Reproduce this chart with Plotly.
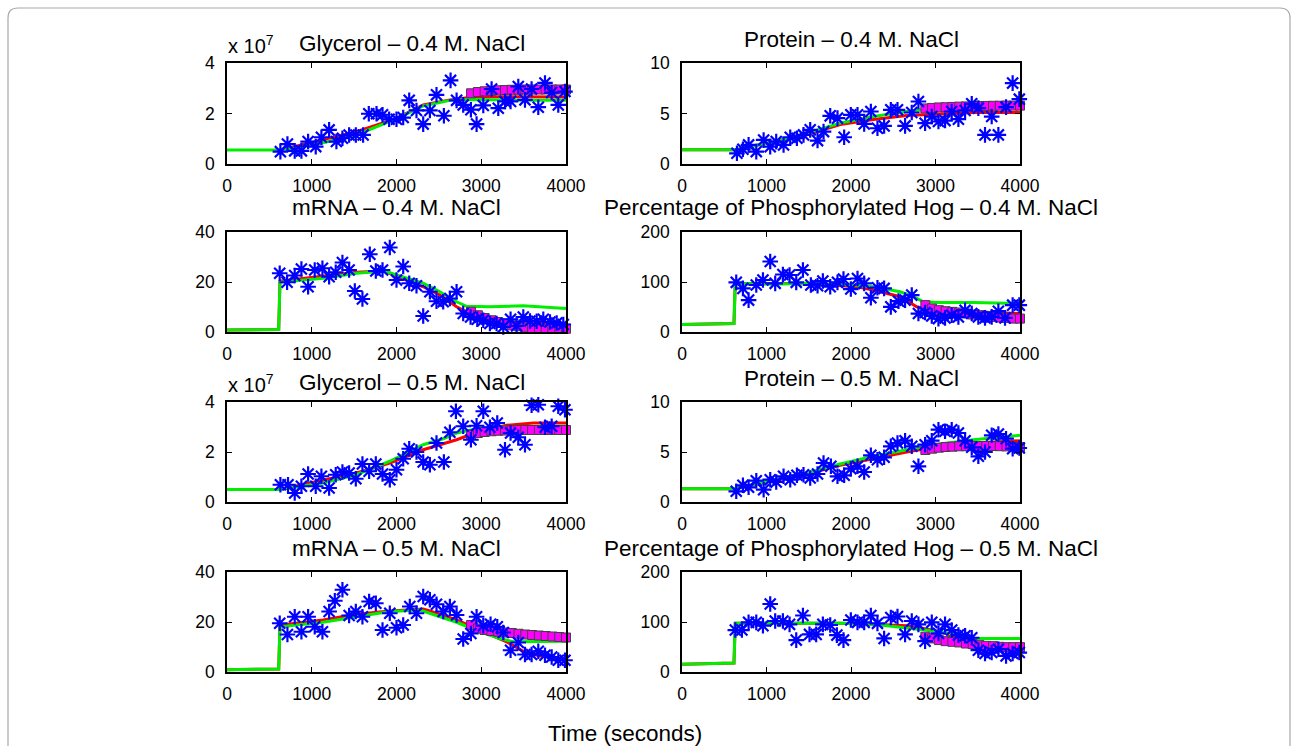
import plotly.graph_objects as go

# ---------------- shared ----------------
SQ_T = [2880, 2960, 3040, 3120, 3200, 3280, 3360, 3440, 3520, 3600, 3680, 3760, 3840, 3920, 4000]
X_TICKS = [0, 1000, 2000, 3000, 4000]

# ---------------- Glycerol 0.4 M (x 10^7) ----------------
GLY04_T = [630, 713, 799, 878, 957, 1047, 1114, 1205, 1291, 1362, 1441, 1520, 1606, 1673, 1764,
           1835, 1913, 2000, 2079, 2150, 2236, 2315, 2394, 2472, 2559, 2638, 2709, 2787, 2878,
           2945, 3024, 3122, 3201, 3280, 3346, 3437, 3516, 3594, 3673, 3752, 3831, 3909, 3988]
GLY04_Y = [0.49, 0.79, 0.52, 0.52, 0.89, 0.69, 1.06, 1.35, 0.89, 1.02, 1.15, 1.15, 1.15, 1.99, 1.99,
           1.95, 1.77, 1.77, 1.84, 2.52, 2.12, 1.58, 2.12, 2.74, 1.91, 3.31, 2.52, 2.34, 2.15,
           1.58, 2.32, 2.97, 2.21, 2.48, 2.48, 3.07, 2.54, 2.97, 2.25, 3.21, 2.83, 2.34, 2.87]
GLY04_GT = [0, 620, 1015, 1527, 2000, 2315, 2630, 2827, 3300, 4000]
GLY04_GY = [0.55, 0.55, 0.75, 1.15, 1.80, 2.30, 2.52, 2.55, 2.53, 2.52]
GLY04_RT = [620, 1134, 1527, 2000, 2315, 2630, 2905, 3300, 4000]
GLY04_RY = [0.55, 0.95, 1.28, 1.81, 2.34, 2.54, 2.65, 2.66, 2.65]
GLY04_SQ = [2.80, 2.85, 2.88, 2.90, 2.92, 2.93, 2.94, 2.94, 2.95, 2.95, 2.95, 2.95, 2.95, 2.95, 2.95]

# ---------------- Protein 0.4 M ----------------
PRO04_T = [650, 721, 788, 879, 966, 1044, 1115, 1202, 1281, 1360, 1438, 1517, 1604, 1675, 1754,
           1840, 1919, 1998, 2077, 2156, 2235, 2313, 2392, 2471, 2550, 2640, 2719, 2798, 2877,
           2956, 3035, 3113, 3192, 3271, 3350, 3429, 3507, 3586, 3665, 3744, 3835, 3913, 3992]
PRO04_Y = [1.06, 1.46, 1.89, 1.23, 2.38, 1.72, 2.22, 1.89, 2.65, 2.55, 2.88, 3.38, 2.32, 3.21, 4.77,
           4.54, 2.65, 4.87, 4.87, 3.97, 5.20, 3.54, 3.77, 5.36, 5.36, 3.77, 5.10, 6.19, 4.04,
           4.70, 4.21, 4.30, 5.20, 4.44, 5.30, 5.96, 5.53, 2.88, 4.70, 2.88, 5.63, 8.01, 6.42]
PRO04_GT = [0, 620, 1084, 1478, 1872, 2266, 2660, 3054, 3448, 4000]
PRO04_GY = [1.4, 1.4, 2.2, 3.05, 4.05, 4.7, 5.2, 5.6, 5.85, 6.1]
PRO04_RT = [0, 620, 1084, 1478, 1872, 2266, 2660, 3054, 3448, 4000]
PRO04_RY = [1.4, 1.4, 2.2, 2.9, 3.9, 4.4, 4.8, 4.97, 5.1, 5.1]
PRO04_SQ = [5.50, 5.55, 5.60, 5.62, 5.65, 5.68, 5.70, 5.72, 5.74, 5.75, 5.76, 5.77, 5.78, 5.78, 5.78]

# ---------------- mRNA 0.4 M ----------------
MRN04_T = [622, 709, 799, 878, 957, 1035, 1126, 1205, 1283, 1362, 1441, 1508, 1598, 1685, 1756,
           1835, 1921, 2000, 2079, 2150, 2236, 2315, 2394, 2472, 2551, 2630, 2709, 2787, 2874,
           2953, 3024, 3102, 3181, 3260, 3346, 3417, 3496, 3575, 3654, 3732, 3811, 3890, 3968]
MRN04_Y = [23.5, 19.9, 22.6, 25.2, 18.1, 24.8, 25.5, 22.1, 23.9, 27.8, 24.8, 16.4, 13.2, 31.1, 24.4,
           24.8, 33.8, 20.8, 26.2, 19.5, 18.5, 6.4, 16.1, 12.3, 12.1, 13.4, 16.1, 7.4, 6.0,
           5.1, 4.7, 3.4, 3.4, 2.0, 5.1, 2.4, 6.0, 4.4, 4.3, 5.1, 4.0, 3.6, 3.0]
MRN04_GT = [0, 610, 625, 1134, 1527, 1862, 2000, 2315, 2512, 2709, 2827, 3102, 3496, 4000]
MRN04_GY = [0.8, 1.0, 19.9, 21.5, 23.5, 24.4, 22.8, 19.5, 16.1, 12.1, 10.3, 10.1, 10.5, 9.4]
MRN04_RT = [0, 610, 625, 1134, 1527, 1842, 1921, 2315, 2512, 2709, 2906, 3102, 3496, 4000]
MRN04_RY = [0.8, 1.0, 20.4, 22.4, 23.9, 24.4, 23.5, 18.1, 14.8, 10.1, 6.7, 5.1, 3.4, 3.0]
MRN04_SQ = [8.1, 6.7, 5.6, 4.7, 4.0, 3.4, 2.7, 2.3, 1.9, 1.6, 1.3, 1.3, 1.3, 1.3, 1.3]

# ---------------- Phosphorylated Hog 0.4 M (%) ----------------
PHO04_T = [642, 721, 788, 879, 958, 1044, 1103, 1194, 1273, 1352, 1431, 1525, 1604, 1667, 1754,
           1840, 1911, 1998, 2077, 2156, 2235, 2313, 2392, 2471, 2562, 2640, 2719, 2798, 2877,
           2956, 3035, 3113, 3192, 3271, 3350, 3429, 3507, 3586, 3665, 3744, 3823, 3913, 3992]
PHO04_Y = [99.3, 87.2, 63.8, 94.0, 104, 141, 97.3, 115, 114, 99.3, 124, 94.0, 92.6, 102, 90.6,
           99.3, 106, 85.9, 107, 97.3, 68.5, 88.6, 87.2, 50.3, 61.7, 63.8, 73.8, 36.9, 38.9,
           32.2, 26.8, 28.2, 33.6, 30.2, 43.6, 36.9, 30.2, 28.2, 30.2, 41.6, 28.2, 53.7, 53.7]
PHO04_GT = [0, 615, 630, 690, 1084, 1478, 1872, 2266, 2581, 2739, 2857, 3054, 3448, 4000]
PHO04_GY = [14.8, 16.8, 97.0, 97.0, 95.3, 97.3, 95.3, 90.6, 80.5, 70.5, 60.4, 59.0, 59.0, 57.0]
PHO04_RT = [0, 615, 630, 690, 1281, 1675, 2069, 2266, 2581, 2778, 2936, 3251, 3645, 4000]
PHO04_RY = [14.8, 16.8, 97.0, 97.0, 97.0, 95.0, 90.6, 84.0, 70.5, 50.3, 43.6, 40.3, 39.0, 37.0]
PHO04_SQ = [53.7, 47.0, 43.6, 41.6, 40.3, 39.0, 37.0, 35.0, 33.6, 32.2, 30.2, 28.9, 28.2, 26.8, 26.8]

# ---------------- Glycerol 0.5 M (x 10^7) ----------------
GLY05_T = [630, 720, 799, 878, 957, 1047, 1114, 1205, 1283, 1362, 1441, 1520, 1598, 1677, 1756,
           1835, 1921, 2000, 2079, 2150, 2236, 2315, 2394, 2472, 2559, 2630, 2701, 2787, 2878,
           2945, 3024, 3102, 3189, 3280, 3346, 3437, 3516, 3594, 3673, 3752, 3831, 3909, 3988]
GLY05_Y = [0.69, 0.69, 0.36, 0.63, 1.12, 0.63, 1.03, 0.56, 1.09, 1.20, 1.16, 0.93, 1.52, 1.23, 1.52,
           1.12, 0.89, 1.29, 1.73, 2.13, 2.00, 1.60, 1.49, 2.36, 1.60, 2.79, 3.63, 3.03, 2.49,
           3.05, 3.63, 2.99, 3.16, 2.09, 2.76, 2.59, 2.29, 3.87, 3.89, 2.99, 3.03, 3.83, 3.69]
GLY05_GT = [0, 620, 1134, 1527, 1921, 2315, 2551, 2709, 2984, 3299, 4000]
GLY05_GY = [0.5, 0.5, 0.76, 1.09, 1.63, 2.29, 2.53, 2.76, 2.96, 3.0, 3.03]
GLY05_RT = [620, 1134, 1527, 1921, 2315, 2709, 2984, 3299, 3614, 4000]
GLY05_RY = [0.5, 0.89, 1.16, 1.56, 2.09, 2.49, 2.83, 3.07, 3.16, 3.16]
GLY05_SQ = [2.70, 2.76, 2.80, 2.83, 2.85, 2.86, 2.87, 2.88, 2.88, 2.88, 2.88, 2.88, 2.88, 2.88, 2.88]

# ---------------- Protein 0.5 M ----------------
PRO05_T = [642, 721, 788, 879, 966, 1044, 1115, 1202, 1281, 1360, 1438, 1517, 1604, 1675, 1762,
           1840, 1919, 1998, 2077, 2156, 2235, 2313, 2392, 2471, 2550, 2640, 2719, 2798, 2877,
           2956, 3035, 3113, 3192, 3271, 3350, 3429, 3507, 3586, 3665, 3744, 3835, 3913, 3992]
PRO05_Y = [1.07, 1.67, 1.47, 2.13, 1.23, 2.23, 2.00, 2.57, 2.23, 2.67, 2.73, 2.40, 2.80, 3.90, 3.57,
           2.57, 2.67, 3.33, 3.57, 3.00, 4.67, 4.23, 4.47, 5.57, 5.90, 6.13, 5.57, 3.57, 5.73,
           6.13, 7.23, 7.07, 7.23, 6.90, 6.13, 5.47, 4.57, 5.00, 6.67, 6.80, 6.33, 5.33, 5.40]
PRO05_GT = [0, 620, 1084, 1478, 1872, 2266, 2660, 3054, 3448, 4000]
PRO05_GY = [1.33, 1.33, 2.23, 2.9, 3.8, 4.57, 5.23, 5.8, 6.23, 6.67]
PRO05_RT = [0, 620, 1084, 1478, 1872, 2266, 2660, 3054, 3448, 4000]
PRO05_RY = [1.33, 1.33, 2.13, 2.8, 3.67, 4.33, 5.0, 5.57, 5.9, 6.13]
PRO05_SQ = [5.20, 5.33, 5.43, 5.50, 5.53, 5.57, 5.58, 5.60, 5.60, 5.60, 5.60, 5.58, 5.56, 5.53, 5.50]

# ---------------- mRNA 0.5 M ----------------
MRN05_T = [622, 713, 799, 878, 957, 1035, 1126, 1205, 1272, 1362, 1441, 1520, 1598, 1677, 1756,
           1835, 1921, 2000, 2079, 2157, 2236, 2315, 2394, 2472, 2551, 2630, 2709, 2787, 2878,
           2945, 3024, 3110, 3189, 3260, 3346, 3437, 3516, 3594, 3673, 3752, 3831, 3909, 3988]
MRN05_Y = [19.5, 15.0, 22.1, 16.1, 22.1, 18.1, 16.1, 24.2, 28.5, 32.9, 22.6, 24.2, 22.1, 28.2, 27.5,
           16.8, 23.5, 17.7, 18.8, 26.2, 23.5, 30.2, 28.9, 27.1, 24.2, 26.2, 22.8, 13.2, 15.4,
           22.1, 18.5, 19.1, 18.1, 15.8, 8.7, 11.8, 7.0, 7.0, 8.3, 6.7, 6.0, 4.7, 4.7]
MRN05_GT = [0, 610, 625, 1134, 1527, 1921, 2276, 2394, 2709, 2984, 3220, 3378, 3693, 4000]
MRN05_GY = [0.9, 1.2, 18.1, 19.9, 22.1, 24.2, 24.8, 23.5, 19.9, 16.1, 13.4, 12.1, 12.1, 12.3]
MRN05_RT = [0, 610, 625, 1134, 1527, 1921, 2315, 2394, 2709, 2984, 3299, 3496, 3693, 4000]
MRN05_RY = [0.9, 1.2, 18.8, 20.8, 23.1, 24.4, 25.2, 24.4, 20.8, 16.8, 12.1, 8.3, 6.4, 5.1]
MRN05_SQ = [18.8, 17.4, 16.8, 16.4, 16.1, 15.8, 15.6, 15.3, 15.0, 14.8, 14.6, 14.4, 14.2, 14.0, 13.8]

# ---------------- Phosphorylated Hog 0.5 M (%) ----------------
PHO05_T = [631, 709, 788, 879, 958, 1044, 1103, 1194, 1273, 1352, 1431, 1509, 1588, 1667, 1754,
           1833, 1911, 1998, 2077, 2156, 2235, 2313, 2392, 2471, 2550, 2640, 2719, 2798, 2877,
           2956, 3035, 3113, 3192, 3271, 3350, 3429, 3507, 3586, 3665, 3744, 3835, 3913, 3992]
PHO05_Y = [83.9, 83.9, 99.3, 99.3, 92.6, 136, 102, 102, 95.3, 63.8, 113, 75.2, 75.2, 95.3, 94.0,
           73.8, 63.8, 104, 99.3, 99.3, 113, 97.3, 67.1, 109, 111, 75.2, 102, 95.3, 61.7,
           99.3, 77.2, 95.3, 83.9, 73.8, 72.5, 68.5, 43.6, 36.9, 38.9, 45.6, 32.2, 36.9, 38.9]
PHO05_GT = [0, 615, 630, 690, 1478, 1872, 2266, 2660, 3054, 3251, 3448, 3645, 4000]
PHO05_GY = [15.4, 18.0, 97.3, 97.3, 97.3, 97.3, 95.3, 87.2, 80.5, 73.8, 67.1, 67.1, 67.1]
PHO05_RT = [0, 615, 630, 690, 1872, 2266, 2660, 2857, 3054, 3251, 3448, 3645, 4000]
PHO05_RY = [15.4, 18.0, 97.3, 97.3, 97.3, 95.3, 92.6, 87.2, 80.5, 70.5, 57.0, 50.3, 47.0]
PHO05_SQ = [70.5, 67.1, 63.8, 61.7, 60.4, 59.1, 57.0, 55.7, 53.7, 52.3, 51.7, 50.3, 49.7, 49.7, 49.7]

TITLES = ["Glycerol \u2013 0.4 M. NaCl", "Protein \u2013 0.4 M. NaCl",
          "mRNA \u2013 0.4 M. NaCl", "Percentage of Phosphorylated Hog \u2013 0.4 M. NaCl",
          "Glycerol \u2013 0.5 M. NaCl", "Protein \u2013 0.5 M. NaCl",
          "mRNA \u2013 0.5 M. NaCl", "Percentage of Phosphorylated Hog \u2013 0.5 M. NaCl"]

panels = [
    (GLY04_T, GLY04_Y, GLY04_GT, GLY04_GY, GLY04_RT, GLY04_RY, GLY04_SQ, 4, [0, 2, 4]),
    (PRO04_T, PRO04_Y, PRO04_GT, PRO04_GY, PRO04_RT, PRO04_RY, PRO04_SQ, 10, [0, 5, 10]),
    (MRN04_T, MRN04_Y, MRN04_GT, MRN04_GY, MRN04_RT, MRN04_RY, MRN04_SQ, 40, [0, 20, 40]),
    (PHO04_T, PHO04_Y, PHO04_GT, PHO04_GY, PHO04_RT, PHO04_RY, PHO04_SQ, 200, [0, 100, 200]),
    (GLY05_T, GLY05_Y, GLY05_GT, GLY05_GY, GLY05_RT, GLY05_RY, GLY05_SQ, 4, [0, 2, 4]),
    (PRO05_T, PRO05_Y, PRO05_GT, PRO05_GY, PRO05_RT, PRO05_RY, PRO05_SQ, 10, [0, 5, 10]),
    (MRN05_T, MRN05_Y, MRN05_GT, MRN05_GY, MRN05_RT, MRN05_RY, MRN05_SQ, 40, [0, 20, 40]),
    (PHO05_T, PHO05_Y, PHO05_GT, PHO05_GY, PHO05_RT, PHO05_RY, PHO05_SQ, 200, [0, 100, 200]),
]

W, H = 1293, 746
FONT = "Liberation Sans, Arial, Helvetica, sans-serif"
COL_PX = [(227, 566), (682, 1020)]
ROW_PX = [(63, 164), (232, 332), (402, 502), (572, 672)]

fig = go.Figure()
layout = {}
annotations = []
for i, (t, y, gt, gy, rt, ry, sq, ymax, yt) in enumerate(panels):
    n = i + 1
    r, c = divmod(i, 2)
    xs = "" if n == 1 else str(n)
    xa, ya = "x" + xs, "y" + xs
    fig.add_trace(go.Scatter(x=rt, y=ry, mode="lines", line=dict(color="#ff0000", width=3),
                             xaxis=xa, yaxis=ya, showlegend=False, hoverinfo="skip"))
    fig.add_trace(go.Scatter(x=gt, y=gy, mode="lines", line=dict(color="#00ee00", width=3),
                             xaxis=xa, yaxis=ya, showlegend=False, hoverinfo="skip"))
    fig.add_trace(go.Scatter(x=SQ_T, y=sq, mode="markers",
                             marker=dict(symbol="square", size=9, color="#ff00ff",
                                         line=dict(color="#404040", width=1)),
                             xaxis=xa, yaxis=ya, showlegend=False, cliponaxis=False))
    fig.add_trace(go.Scatter(x=t, y=y, mode="markers",
                             marker=dict(symbol="asterisk-open", size=13, color="#0000ff",
                                         line=dict(color="#0000ff", width=2.2)),
                             xaxis=xa, yaxis=ya, showlegend=False, cliponaxis=False))
    x0, x1 = COL_PX[c]
    top, bot = ROW_PX[r]
    common = dict(showline=True, linecolor="black", linewidth=1.5, mirror="ticks",
                  ticks="inside", ticklen=5, tickwidth=1.2, tickcolor="black",
                  showgrid=False, zeroline=False, automargin=False,
                  tickfont=dict(family=FONT, size=17.5, color="black"))
    layout["xaxis" + xs] = dict(domain=[x0 / W, x1 / W], anchor=ya, range=[0, 4000],
                                tickvals=X_TICKS, ticklabelstandoff=5, **common)
    layout["yaxis" + xs] = dict(domain=[1 - bot / H, 1 - top / H], anchor=xa, range=[0, ymax],
                                tickvals=yt, ticklabelstandoff=7, **common)
    is_gly = (c == 0 and r in (0, 2))
    cx = 412 if is_gly else (x0 + x1) / 2
    cy = top - (20 if is_gly else 24)
    annotations.append(dict(text=TITLES[i], x=cx / W, y=1 - cy / H, xref="paper", yref="paper",
                            xanchor="center", yanchor="middle", showarrow=False,
                            font=dict(family=FONT, size=22.5, color="black")))
    if is_gly:
        annotations.append(dict(text="x 10<sup>7</sup>", x=226 / W, y=1 - (top - 19) / H,
                                xref="paper", yref="paper", xanchor="left", yanchor="middle",
                                showarrow=False, font=dict(family=FONT, size=20, color="black")))

annotations.append(dict(text="Time (seconds)", x=625 / W, y=1 - 733 / H, xref="paper", yref="paper",
                        xanchor="center", yanchor="middle", showarrow=False,
                        font=dict(family=FONT, size=22.5, color="black")))

# frame border
fx0, fx1, fy0, fy1, rr = 8 / W, 1290 / W, 1 - 8 / H, 1 - 770 / H, 10
rx, ry_ = rr / W, rr / H
frame = (f"M {fx0},{fy1} L {fx0},{fy0 - ry_} Q {fx0},{fy0} {fx0 + rx},{fy0} "
         f"L {fx1 - rx},{fy0} Q {fx1},{fy0} {fx1},{fy0 - ry_} L {fx1},{fy1}")

fig.update_layout(width=W, height=H, margin=dict(l=0, r=0, t=0, b=0, pad=0),
                  paper_bgcolor="white", plot_bgcolor="white",
                  font=dict(family=FONT, color="black"),
                  annotations=annotations,
                  shapes=[dict(type="path", path=frame, xref="paper", yref="paper",
                               line=dict(color="#a8a8a8", width=1.2), layer="below")],
                  **layout)
fig.write_html("out.html", config={"displayModeBar": False},
               post_script="document.body.style.margin='0';document.body.style.padding='0';"
                           "document.body.style.overflow='hidden';")
